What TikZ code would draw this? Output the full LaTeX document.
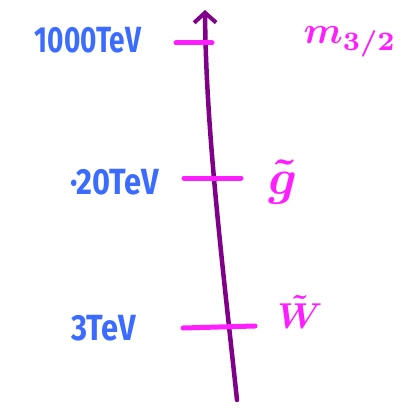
\documentclass[tikz,border=0pt]{standalone}
\usepackage{fontspec}
\setmainfont{Fira Sans}
\usetikzlibrary{arrows.meta}
\definecolor{axpurple}{HTML}{80008A}
\definecolor{mag}{HTML}{FF1EFF}
\definecolor{lblue}{HTML}{3B6CFF}
\begin{document}
\begin{tikzpicture}[x=1pt,y=-1pt,
  axis/.style={draw=axpurple,line width=4.5pt,line cap=round,-{Straight Barb[length=10pt,width=22pt,line width=4pt]}},
  tick/.style={draw=mag,line width=5pt,line cap=round},
  blab/.style={text=lblue,font=\fontsize{28}{30}\selectfont\bfseries,inner sep=0pt},
  mlab/.style={text=mag,inner sep=0pt}]
\useasboundingbox[fill=white] (0,0) rectangle (407,409);
\coordinate (bot) at (237,400);
\coordinate (top) at (205,10);
\draw[axis] (bot) .. controls (222,260) and (206,130) .. (top);
% ticks
\coordinate (t1a) at (176,43); \coordinate (t1b) at (212,43);
\coordinate (t2a) at (184,178); \coordinate (t2b) at (241,178);
\coordinate (t3a) at (183,328); \coordinate (t3b) at (255,326);
\draw[tick] (t1a) -- (t1b);
\draw[tick] (t2a) -- (t2b);
\draw[tick] (t3a) -- (t3b);
% labels
\node[blab] (l1) at (88,40) {\scalebox{1}[1.3]{1000TeV}};
\node[blab] (l2) at (115,182) {\scalebox{1.1}[1.3]{·20TeV}};
\node[blab] (l3) at (104,328) {\scalebox{1.1}[1.3]{3TeV}};
\node[mlab] (m1) at (350,42) {\scalebox{3.8}{\boldmath$m_{3/2}$}};
\node[mlab] (m2) at (283,182) {\scalebox{5}{\boldmath$\tilde{g}$}};
\node[mlab] (m3) at (300,312) {\scalebox{3.6}{\boldmath$\tilde{W}$}};
\end{tikzpicture}
\end{document}
